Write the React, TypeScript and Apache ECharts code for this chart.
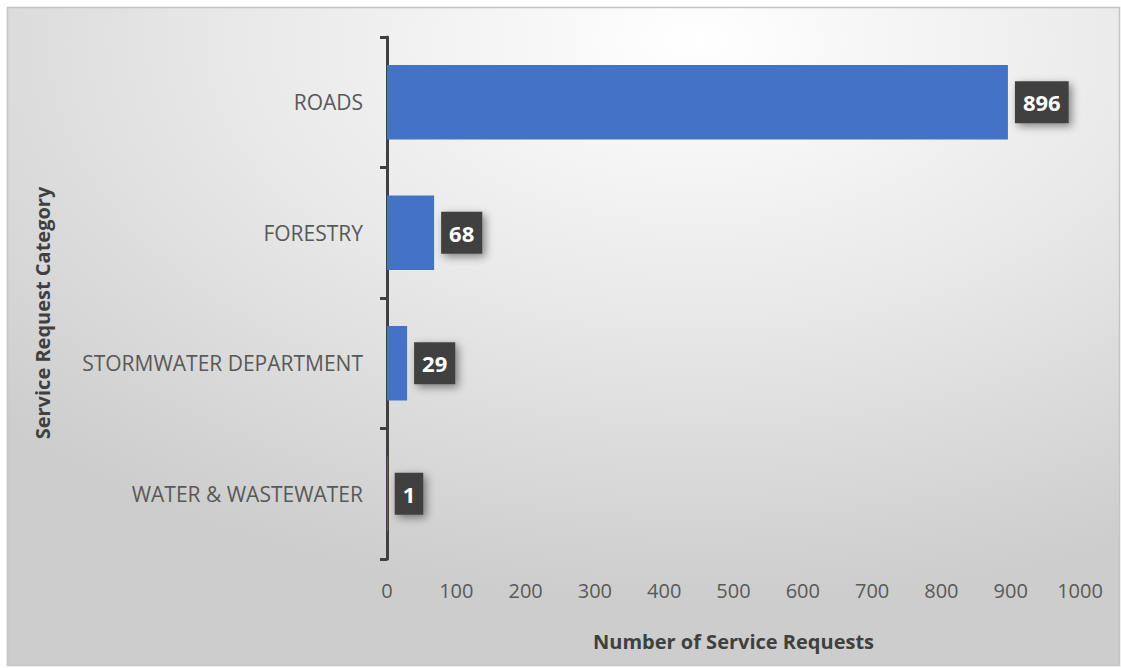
import React, { useEffect, useRef } from "react";
import * as echarts from "echarts";

const categories = ["ROADS", "FORESTRY", "STORMWATER DEPARTMENT", "WATER & WASTEWATER"];
const values = [896, 68, 29, 1];
const xTicks = [0, 100, 200, 300, 400, 500, 600, 700, 800, 900, 1000];
const yTitle = "Service Request Category";
const xTitle = "Number of Service Requests";

export default function App() {
  const ref = useRef<HTMLDivElement>(null);
  useEffect(() => {
    const chart = echarts.init(ref.current!, null, { renderer: "svg" });
    const font = "'Open Sans', 'Noto Sans', sans-serif";
    chart.setOption({
      animation: false,
      backgroundColor: "#ffffff",
      graphic: [
        {
          type: "rect",
          z: -10,
          silent: true,
          shape: { x: 7.5, y: 7.5, width: 1112, height: 658 },
          style: {
            fill: new echarts.graphic.RadialGradient(0.62, 0.05, 0.85, [
              { offset: 0, color: "#ffffff" },
              { offset: 0.5, color: "#e8e8e8" },
              { offset: 1, color: "#cdcdcd" },
            ]),
            stroke: "#c4c4c4",
            lineWidth: 1.5,
          },
        },
        {
          type: "text",
          x: 42,
          y: 313,
          rotation: Math.PI / 2,
          style: {
            text: yTitle,
            fill: "#404040",
            font: "bold 20px 'Open Sans', 'Noto Sans', sans-serif",
            align: "center",
            verticalAlign: "middle",
          },
        },
      ],
      grid: { left: 387, right: 41, top: 37, bottom: 109, containLabel: false },
      xAxis: {
        type: "value",
        min: 0,
        max: 1000,
        interval: 100,
        axisLine: { show: false },
        axisTick: { show: false },
        splitLine: { show: false },
        axisLabel: {
          color: "#595959",
          fontSize: 20,
          fontFamily: font,
          margin: 21,
          formatter: (v: number) => (xTicks.includes(v) ? String(v) : ""),
        },
        name: xTitle,
        nameLocation: "middle",
        nameGap: 72,
        nameTextStyle: { color: "#404040", fontSize: 20, fontWeight: "bold", fontFamily: font },
      },
      yAxis: {
        type: "category",
        data: categories,
        inverse: true,
        axisLine: { show: true, lineStyle: { color: "#404040", width: 3 } },
        axisTick: { show: true, length: 7, inside: false, lineStyle: { color: "#404040", width: 3 } },
        axisLabel: { color: "#595959", fontSize: 21, fontFamily: font, margin: 24 },
      },
      series: [
        {
          type: "bar",
          data: values,
          barCategoryGap: "43%",
          itemStyle: { color: "#4472C4" },
          label: {
            show: true,
            position: "right",
            distance: 7,
            color: "#ffffff",
            fontSize: 22,
            lineHeight: 24,
            fontWeight: "bold",
            fontFamily: font,
            backgroundColor: "#404040",
            padding: [9, 8, 9, 8],
            shadowColor: "rgba(0,0,0,0.45)",
            shadowBlur: 8,
            shadowOffsetX: 3,
            shadowOffsetY: 3,
          },
        },
      ],
    });
    return () => chart.dispose();
  }, []);
  return <div ref={ref} style={{ position: "absolute", left: 0, top: 0, width: 1121, height: 668 }} />;
}
